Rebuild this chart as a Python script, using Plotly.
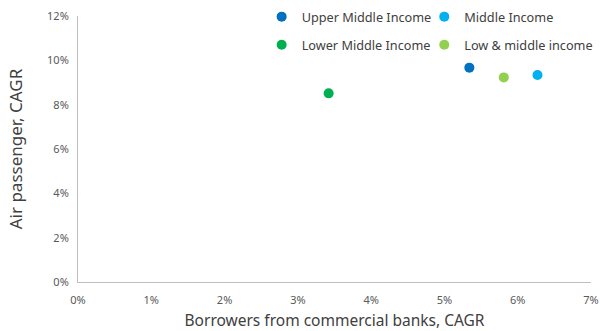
import plotly.graph_objects as go

names = ["Upper Middle Income", "Middle Income", "Lower Middle Income", "Low & middle income"]
borrowers_cagr = [0.0534, 0.0627, 0.0342, 0.0581]
air_cagr = [0.0967, 0.0934, 0.0851, 0.0923]
colors = ["#0070C0", "#00B0F0", "#00B050", "#92D050"]
legend_ids = ["legend", "legend2", "legend", "legend2"]

fig = go.Figure()
for n, x, y, c, lg in zip(names, borrowers_cagr, air_cagr, colors, legend_ids):
    fig.add_trace(go.Scatter(x=[x], y=[y], mode="markers", name=n,
                             marker=dict(color=c, size=10),
                             legend=lg, legendgroup=n))

font = "Noto Sans"
leg_common = dict(yanchor="top", y=1.053, xanchor="left", bgcolor="rgba(0,0,0,0)",
                  font=dict(family=font, size=12.7, color="#404040"),
                  tracegroupgap=8.5, itemwidth=30)
fig.update_layout(
    width=600, height=331,
    margin=dict(l=78, r=9, t=16, b=49, autoexpand=False),
    plot_bgcolor="white", paper_bgcolor="white",
    font=dict(family=font, color="#595959"),
    showlegend=True,
    legend=dict(x=0.358, **leg_common),
    legend2=dict(x=0.675, **leg_common),
    xaxis=dict(range=[0, 0.07], dtick=0.01, tickformat=".0%", showgrid=False, zeroline=False,
               showline=True, linecolor="#BFBFBF", linewidth=1, ticks="",
               ticklabelstandoff=8, automargin=False,
               tickfont=dict(size=11, color="#595959"),
               title=dict(text="Borrowers from commercial banks, CAGR",
                          font=dict(size=15.5, color="#404040"), standoff=13)),
    yaxis=dict(range=[0, 0.12], dtick=0.02, tickformat=".0%", showgrid=False, zeroline=False,
               showline=True, linecolor="#BFBFBF", linewidth=1, ticks="",
               ticklabelstandoff=6, automargin=False,
               tickfont=dict(size=11, color="#595959"),
               title=dict(text="Air passenger, CAGR",
                          font=dict(size=17, color="#404040"), standoff=20)),
)
fig.write_html("out.html")
